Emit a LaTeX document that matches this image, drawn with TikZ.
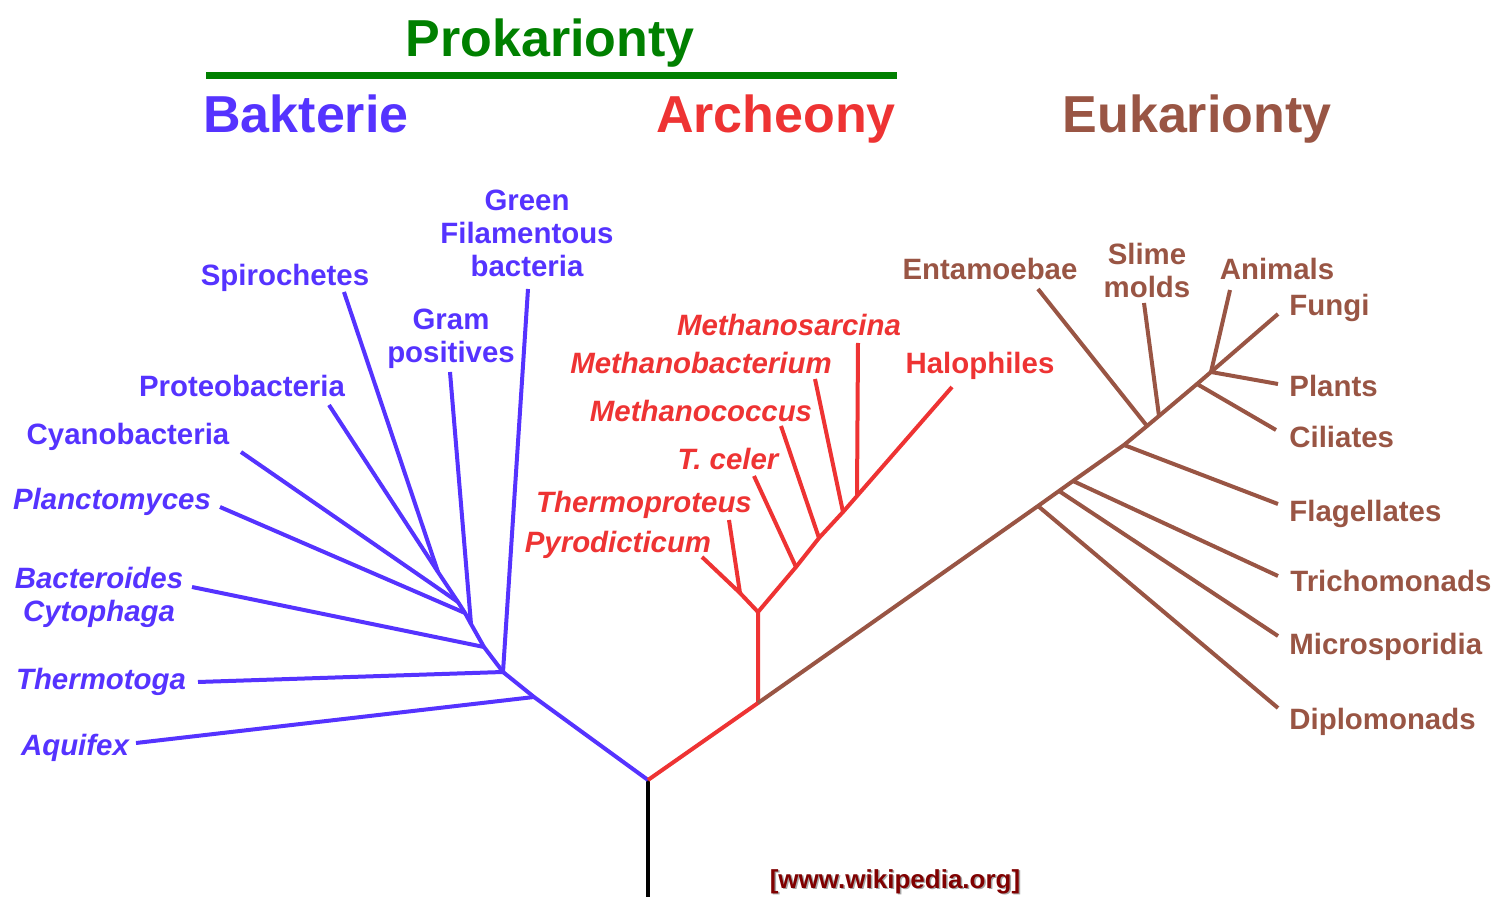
\documentclass[tikz,border=0pt]{standalone}
\usepackage{fontspec}
\setmainfont{Liberation Sans}
\definecolor{bactcol}{HTML}{5533FF}
\definecolor{archcol}{HTML}{EE3333}
\definecolor{eukcol}{HTML}{995544}
\definecolor{prokcol}{HTML}{008000}
\definecolor{wikicol}{HTML}{800000}
\begin{document}
\begin{tikzpicture}[x=0.5pt,y=-0.5pt,
    branch/.style={line width=2pt,line join=round},
    bline/.style={branch,draw=bactcol},
    aline/.style={branch,draw=archcol},
    eline/.style={branch,draw=eukcol},
    lab/.style={font=\fontsize{14.7}{16.5}\selectfont\bfseries,anchor=base,inner sep=0pt,align=center},
    ilab/.style={lab,font=\fontsize{14.7}{16.5}\selectfont\bfseries\itshape},
    rlab/.style={lab,anchor=base west},
    head/.style={font=\fontsize{26}{30}\selectfont\bfseries,anchor=base,inner sep=0pt}]
\useasboundingbox (0,0) rectangle (1495,897);

% headings
\node[head,text=prokcol] (prok) at (550,57) {Prokarionty};
\coordinate (pl) at (206,76);
\coordinate (pr) at (897,76);
\draw[prokcol,line width=3.5pt] (pl) -- (pr);
\node[head,text=bactcol] (hbact) at (306,133) {Bakterie};
\node[head,text=archcol] (harch) at (776,133) {Archeony};
\node[head,text=eukcol] (heuk) at (1197,133) {Eukarionty};

% root
\coordinate (root) at (648,780);
\coordinate (base) at (648,897);
\draw[branch,black] (base) -- (root);

% bacteria: branch points
\coordinate (bA) at (534,697);
\coordinate (bT) at (503,672);
\coordinate (bB) at (484,647);
\coordinate (bG) at (471,624);
\coordinate (bP) at (465,613);
\coordinate (bC) at (458,602);
\coordinate (bS) at (438,572);
% bacteria: tips
\coordinate (tAq) at (136,743);
\coordinate (tTh) at (198,682);
\coordinate (tGF) at (528,289);
\coordinate (tBa) at (192,587);
\coordinate (tGr) at (450,372);
\coordinate (tPl) at (220,507);
\coordinate (tCy) at (241,452);
\coordinate (tPr) at (329,405);
\coordinate (tSp) at (344,292);

\draw[bline] (root) -- (bA) -- (bT) -- (bB) -- (bG) -- (bP) -- (bC) -- (bS) -- (tSp);
\draw[bline] (bA) -- (tAq);
\draw[bline] (bT) -- (tTh);
\draw[bline] (bT) -- (tGF);
\draw[bline] (bB) -- (tBa);
\draw[bline] (bG) -- (tGr);
\draw[bline] (bP) -- (tPl);
\draw[bline] (bC) -- (tCy);
\draw[bline] (bS) -- (tPr);

% archaea: branch points
\coordinate (aS) at (758,703);
\coordinate (aJ) at (758,612);
\coordinate (aPy) at (740,593);
\coordinate (aTc) at (796,567);
\coordinate (aMc) at (819,538);
\coordinate (aMb) at (843,512);
\coordinate (aMs) at (857,496);
% archaea: tips
\coordinate (tPy) at (702,557);
\coordinate (tTp) at (729,520);
\coordinate (tTc) at (754,476);
\coordinate (tMc) at (781,426);
\coordinate (tMb) at (815,379);
\coordinate (tMs) at (858,343);
\coordinate (tHa) at (952,387);

\draw[aline] (root) -- (aS) -- (aJ) -- (aPy) -- (tPy);
\draw[aline] (aPy) -- (tTp);
\draw[aline] (aJ) -- (aTc) -- (aMc) -- (aMb) -- (aMs) -- (tHa);
\draw[aline] (aTc) -- (tTc);
\draw[aline] (aMc) -- (tMc);
\draw[aline] (aMb) -- (tMb);
\draw[aline] (aMs) -- (tMs);

% eukaryotes: branch points
\coordinate (e1) at (1038,506);
\coordinate (e2) at (1059,491);
\coordinate (e3) at (1073,481);
\coordinate (e4) at (1124,445);
\coordinate (e5) at (1147,426);
\coordinate (e6) at (1159,416);
\coordinate (e7) at (1197,384);
\coordinate (e8) at (1211,372);
% eukaryotes: tips
\coordinate (tDi) at (1278,708);
\coordinate (tMi) at (1278,636);
\coordinate (tTr) at (1278,576);
\coordinate (tFl) at (1278,504);
\coordinate (tEn) at (1038,289);
\coordinate (tSl) at (1144,303);
\coordinate (tCi) at (1276,430);
\coordinate (tAn) at (1230,290);
\coordinate (tFu) at (1278,314);
\coordinate (tPt) at (1278,384);

\draw[eline] (aS) -- (e1) -- (e2) -- (e3) -- (e4) -- (e5) -- (e6) -- (e7) -- (e8) -- (tFu);
\draw[eline] (e1) -- (tDi);
\draw[eline] (e2) -- (tMi);
\draw[eline] (e3) -- (tTr);
\draw[eline] (e4) -- (tFl);
\draw[eline] (e5) -- (tEn);
\draw[eline] (e6) -- (tSl);
\draw[eline] (e7) -- (tCi);
\draw[eline] (e8) -- (tAn);
\draw[eline] (e8) -- (tPt);

% bacteria labels (multi-line labels sit on the baseline of their last line)
\node[lab,text=bactcol] (lGF) at (527,277) {Green\\Filamentous\\bacteria};
\node[lab,text=bactcol] (lSp) at (285,286) {Spirochetes};
\node[lab,text=bactcol] (lGr) at (451,363) {Gram\\positives};
\node[lab,text=bactcol] (lPr) at (242,397) {Proteobacteria};
\node[lab,text=bactcol] (lCy) at (128,445) {Cyanobacteria};
\node[ilab,text=bactcol] (lPl) at (112,510) {Planctomyces};
\node[ilab,text=bactcol] (lBa) at (99,622) {Bacteroides\\Cytophaga};
\node[ilab,text=bactcol] (lTh) at (101,690) {Thermotoga};
\node[ilab,text=bactcol] (lAq) at (75,756) {Aquifex};

% archaea labels
\node[ilab,text=archcol] (lMs) at (789,336) {Methanosarcina};
\node[ilab,text=archcol] (lMb) at (701,374) {Methanobacterium};
\node[ilab,text=archcol] (lMc) at (701,422) {Methanococcus};
\node[ilab,text=archcol] (lTc) at (728,470) {T. celer};
\node[ilab,text=archcol] (lTp) at (644,513) {Thermoproteus};
\node[ilab,text=archcol] (lPy) at (618,553) {Pyrodicticum};
\node[lab,text=archcol] (lHa) at (980,374) {Halophiles};

% eukaryote labels
\node[lab,text=eukcol] (lEn) at (990,280) {Entamoebae};
\node[lab,text=eukcol] (lSl) at (1147,298) {Slime\\molds};
\node[lab,text=eukcol] (lAn) at (1277,280) {Animals};
\node[rlab,text=eukcol] (lFu) at (1289,316) {Fungi};
\node[rlab,text=eukcol] (lPt) at (1289,397) {Plants};
\node[rlab,text=eukcol] (lCi) at (1289,448) {Ciliates};
\node[rlab,text=eukcol] (lFl) at (1289,522) {Flagellates};
\node[rlab,text=eukcol] (lTr) at (1290,592) {Trichomonads};
\node[rlab,text=eukcol] (lMi) at (1289,655) {Microsporidia};
\node[rlab,text=eukcol] (lDi) at (1289,730) {Diplomonads};

% source note with its shadow
\node[font=\fontsize{13}{15}\selectfont\bfseries,anchor=base,inner sep=0pt,text=black!35] (wikis) at (896.5,889.5) {[www.wikipedia.org]};
\node[font=\fontsize{13}{15}\selectfont\bfseries,anchor=base,inner sep=0pt,text=wikicol] (wiki) at (895,888) {[www.wikipedia.org]};
\end{tikzpicture}
\end{document}
